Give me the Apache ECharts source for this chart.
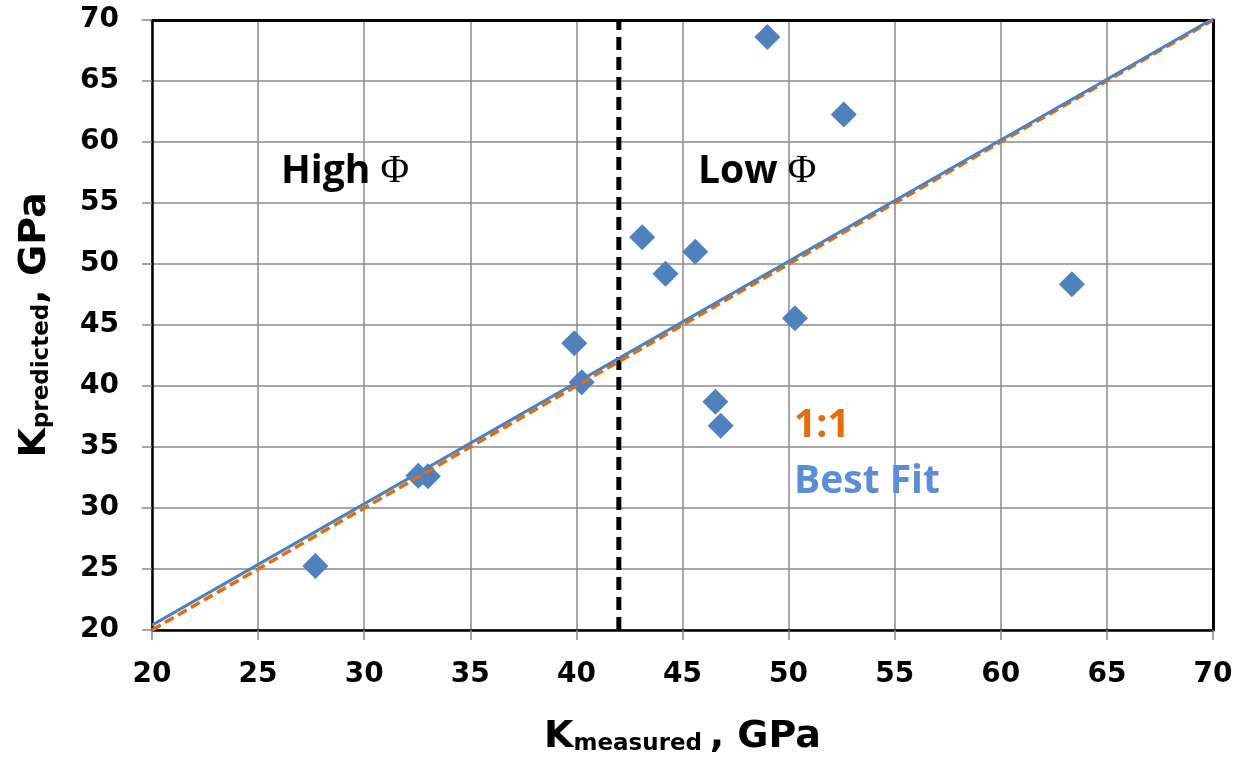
<!DOCTYPE html>
<html><head><meta charset="utf-8">
<script src="https://cdn.jsdelivr.net/npm/echarts@6/dist/echarts.min.js"></script>
<style>html,body{margin:0;padding:0;background:#fff}#c{width:1236px;height:765px}</style>
</head><body><div id="c"></div>
<script>
// K measured (x) and K predicted (y), GPa
const kMeasured  = [49.0, 52.6, 43.1, 45.6, 44.2, 63.35, 50.3, 46.55, 46.8, 39.9, 40.25, 32.55, 33.0, 27.7];
const kPredicted = [68.6, 62.25, 52.2, 51.0, 49.2, 48.35, 45.55, 38.7, 36.75, 43.5, 40.3, 32.65, 32.6, 25.25];
// Best-fit line end points
const fitX = [20, 70];
const fitY = [20.4, 70.1];
// 1:1 line end points
const oneX = [20, 70];
const oneY = [20, 70];
// High/Low porosity boundary
const boundaryX = [42, 42];
const boundaryY = [20, 70];
// axis ranges / tick step
const axisMin = 20, axisMax = 70, axisStep = 5;

const pts = kMeasured.map((x, i) => [x, kPredicted[i]]);
const fit = fitX.map((x, i) => [x, fitY[i]]);
const one = oneX.map((x, i) => [x, oneY[i]]);
const bnd = boundaryX.map((x, i) => [x, boundaryY[i]]);

const tickFont = 'DejaVu Sans';
const titleFont = 'DejaVu Sans';
const annFont = 'Open Sans';

const titleRich = {
  k: {fontFamily: titleFont, fontWeight: 'bold', fontSize: 38, lineHeight: 42, color: '#000', verticalAlign: 'bottom'},
  s: {fontFamily: titleFont, fontWeight: 'bold', fontSize: 23, lineHeight: 2, color: '#000', verticalAlign: 'bottom'}
};
const frameAxis = {
  type: 'value', min: axisMin, max: axisMax, interval: axisStep,
  axisLine: {show: true, onZero: false, lineStyle: {color: '#000', width: 3}},
  axisTick: {show: false}, axisLabel: {show: false}, splitLine: {show: false}
};

const chart = echarts.init(document.getElementById('c'), null, {renderer: 'canvas'});
chart.setOption({
  animation: false,
  backgroundColor: '#fff',
  grid: {left: 152, right: 23, top: 20, bottom: 135},
  xAxis: [{
    type: 'value', min: axisMin, max: axisMax, interval: axisStep,
    axisLine: {show: true, onZero: false, lineStyle: {color: '#000', width: 2.5}},
    axisTick: {show: true, inside: false, length: 10, lineStyle: {color: '#888', width: 1.5}},
    axisLabel: {margin: 31, color: '#000', fontFamily: tickFont, fontWeight: 'bold', fontSize: 28},
    splitLine: {show: true, lineStyle: {color: '#8a8a8a', width: 1.5}},
    name: '{k|K}{s|measured}{k|\u2009, GPa}',
    nameLocation: 'middle', nameGap: 84,
    nameTextStyle: {rich: titleRich}
  }, Object.assign({position: 'top'}, frameAxis)],
  yAxis: [{
    type: 'value', min: axisMin, max: axisMax, interval: axisStep,
    axisLine: {show: true, onZero: false, lineStyle: {color: '#000', width: 2.5}},
    axisTick: {show: true, inside: false, length: 10, lineStyle: {color: '#888', width: 1.5}},
    axisLabel: {margin: 33, color: '#000', fontFamily: tickFont, fontWeight: 'bold', fontSize: 28},
    splitLine: {show: true, lineStyle: {color: '#8a8a8a', width: 1.5}},
    name: '{k|K}{s|predicted}{k|, GPa}',
    nameLocation: 'middle', nameGap: 98, nameRotate: 90,
    nameTextStyle: {rich: titleRich}
  }, Object.assign({position: 'right'}, frameAxis)],
  series: [
    {type: 'scatter', data: pts, symbol: 'diamond', symbolSize: [26, 26],
     itemStyle: {color: '#4F81BD', opacity: 1}, z: 2},
    {type: 'line', data: bnd, symbol: 'none', lineStyle: {color: '#000', width: 5, type: [13, 7]}, z: 3},
    {type: 'line', data: one, symbol: 'none', lineStyle: {color: '#E46C0A', width: 3.5, type: [10, 5]}, z: 4},
    {type: 'line', data: fit, symbol: 'none', lineStyle: {color: '#4F81BD', width: 3}, z: 5}
  ],
  graphic: [
    {type: 'text', left: 281, top: 152, z: 10, style: {
      text: '{a|High }{b|Φ}', rich: {
        a: {fontFamily: annFont, fontWeight: 'bold', fontSize: 39, fill: '#000', verticalAlign: 'bottom', lineHeight: 44},
        b: {fontFamily: 'Liberation Serif', fontSize: 39, fill: '#000', verticalAlign: 'bottom', lineHeight: 38}
      }}},
    {type: 'text', left: 698, top: 152, z: 10, style: {
      text: '{a|Low }{b|Φ}', rich: {
        a: {fontFamily: annFont, fontWeight: 'bold', fontSize: 39, fill: '#000', verticalAlign: 'bottom', lineHeight: 44},
        b: {fontFamily: 'Liberation Serif', fontSize: 39, fill: '#000', verticalAlign: 'bottom', lineHeight: 38}
      }}},
    {type: 'text', left: 794, top: 406, z: 10, style: {
      text: '1:1', font: 'bold 39px "Open Sans"', fill: '#E46C0A'}},
    {type: 'text', left: 794, top: 462, z: 10, style: {
      text: 'Best Fit', font: 'bold 39px "Open Sans"', fill: '#5A8FD6'}}
  ]
});
</script></body></html>
